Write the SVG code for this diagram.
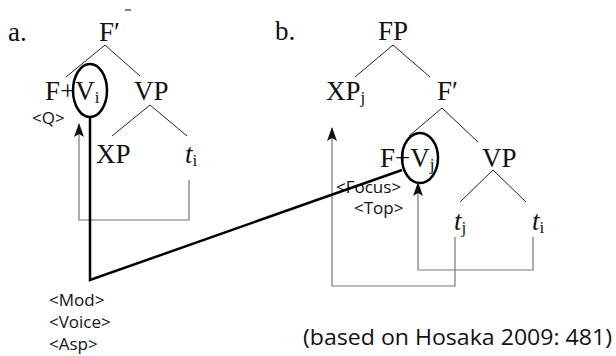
<svg xmlns="http://www.w3.org/2000/svg" width="616" height="356" viewBox="0 0 616 356">
<style>
.s{font-family:"Liberation Serif","Times New Roman",serif;font-size:27px;fill:#111}
.sub{font-size:17px}
.it{font-style:italic}
.f{font-family:"Open Sans","Noto Sans",sans-serif;font-size:17px;fill:#111}
.tr{stroke:#222;stroke-width:1;fill:none}
.mv{stroke:#777;stroke-width:1.2;fill:none}
.thick{stroke:#000;stroke-width:2.5;fill:none}
</style>
<defs>
<marker id="ah" viewBox="0 0 14 10" refX="13" refY="5" markerWidth="14" markerHeight="10" markerUnits="userSpaceOnUse" orient="auto">
<path d="M14,5 L0,0 L3,5 L0,10 Z" fill="#111"/>
</marker>
</defs>
<line x1="125" y1="10" x2="131" y2="10" stroke="#333" stroke-width="1.2"/>
<g id="label-a"><text class="s" x="8" y="41">a.</text></g>
<g id="a-Fbar"><text class="s" x="99" y="41">F′</text></g>
<g id="a-FV"><text class="s" x="45" y="100">F+V<tspan class="sub" dy="3">i</tspan></text><ellipse cx="90" cy="90.5" rx="17" ry="26.5" class="thick"/></g>
<g id="a-Q"><text class="f" x="32" y="124">&lt;Q&gt;</text></g>
<g id="a-VP"><text class="s" x="134" y="100">VP</text></g>
<g id="a-XP"><text class="s" x="96" y="163">XP</text></g>
<g id="a-ti"><text class="s" x="185" y="163"><tspan class="it">t</tspan><tspan class="sub" dy="3">i</tspan></text></g>
<g id="label-b"><text class="s" x="275" y="40">b.</text></g>
<g id="b-FP"><text class="s" x="378" y="40">FP</text></g>
<g id="b-XPj"><text class="s" x="326" y="100">XP<tspan class="sub" dy="3">j</tspan></text></g>
<g id="b-Fbar"><text class="s" x="437" y="100">F′</text></g>
<g id="b-FV"><text class="s" x="380" y="167">F+V<tspan class="sub" dy="3">j</tspan></text><ellipse cx="420" cy="158" rx="18" ry="25" class="thick"/></g>
<g id="b-VP"><text class="s" x="482" y="167">VP</text></g>
<g id="b-tj"><text class="s" x="454" y="230"><tspan class="it">t</tspan><tspan class="sub" dy="3">j</tspan></text></g>
<g id="b-ti"><text class="s" x="532" y="230"><tspan class="it">t</tspan><tspan class="sub" dy="3">i</tspan></text></g>
<g id="b-feat"><text class="f" x="336" y="193">&lt;Focus&gt;</text><text class="f" x="354" y="214">&lt;Top&gt;</text></g>
<g id="feat"><text class="f" x="49" y="306">&lt;Mod&gt;</text><text class="f" x="49" y="328">&lt;Voice&gt;</text><text class="f" x="49" y="350">&lt;Asp&gt;</text></g>
<g id="source"><text font-family="'Open Sans','Noto Sans',sans-serif" font-size="22" fill="#111" x="303" y="345" textLength="309" lengthAdjust="spacingAndGlyphs">(based on Hosaka 2009: 481)</text></g>
<g id="connectors">
<path class="tr" d="M66,77 L105,45 L140,76"/>
<path class="tr" d="M112,136 L150,105 L187,136"/>
<path class="tr" d="M355,77 L393,45 L430,77"/>
<path class="tr" d="M409,136 L442,108 L478,142"/>
<path class="tr" d="M460,202 L493,170 L526,202"/>
<path class="mv" d="M189,180 V220 H79 V124" marker-end="url(#ah)"/>
<path class="mv" d="M455,237 V286 H332 V128" marker-end="url(#ah)"/>
<path class="mv" d="M533,237 V270 H418 V183" marker-end="url(#ah)"/>
<path class="thick" d="M90,117 V280 L402,170"/>
</g>
</svg>
